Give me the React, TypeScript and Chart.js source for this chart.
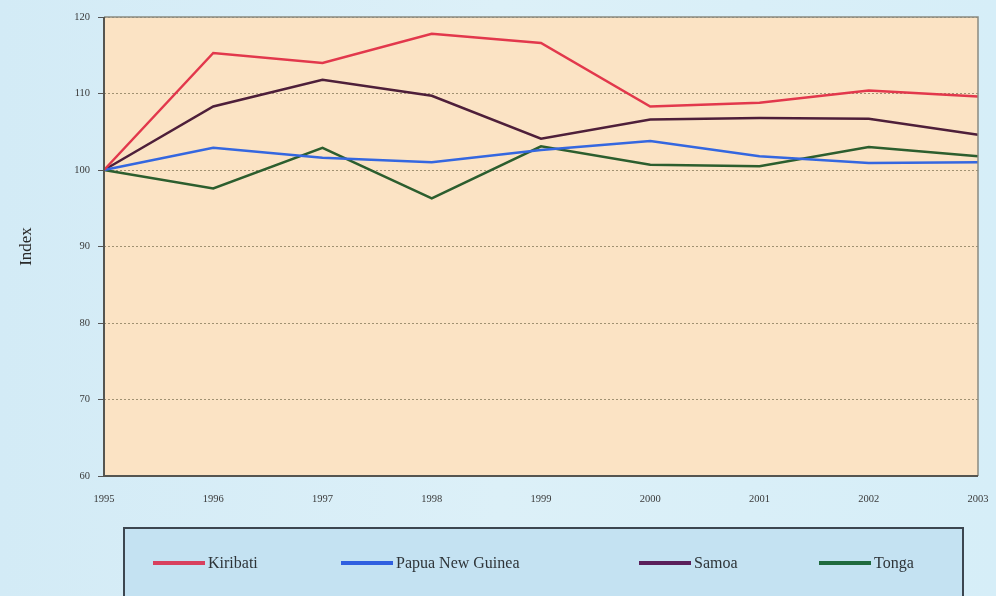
import React, { useEffect, useRef } from "react";
import { Chart, registerables } from "chart.js";

Chart.register(...registerables);

const years = ["1995", "1996", "1997", "1998", "1999", "2000", "2001", "2002", "2003"];
const kiribati = [100, 115.3, 114.0, 117.8, 116.6, 108.3, 108.8, 110.4, 109.6];
const papuaNewGuinea = [100, 102.9, 101.6, 101.0, 102.6, 103.8, 101.8, 100.9, 101.0];
const samoa = [100, 108.3, 111.8, 109.7, 104.1, 106.6, 106.8, 106.7, 104.6];
const tonga = [100, 97.6, 102.9, 96.3, 103.1, 100.7, 100.5, 103.0, 101.8];
const seriesNames = ["Kiribati", "Papua New Guinea", "Samoa", "Tonga"];
const seriesColors = ["#e2384c", "#3467e0", "#4e1f3a", "#2c5e2e"];
const legendColors = ["#d8405e", "#2f5fe0", "#5a1f5a", "#1f6a3e"];
const yMin = 60;
const yMax = 120;
const yStep = 10;

const FONT = "'Liberation Serif', 'Times New Roman', serif";

const bgPlugin = {
  id: "bgPlugin",
  beforeDraw(chart: any) {
    const { ctx, width, height, chartArea } = chart;
    ctx.save();
    const g = ctx.createLinearGradient(0, 0, width, 0);
    g.addColorStop(0, "#d3ebf6");
    g.addColorStop(0.5, "#dcf0f8");
    g.addColorStop(1, "#d6eef8");
    ctx.fillStyle = g;
    ctx.fillRect(0, 0, width, height);
    ctx.fillStyle = "#fbe3c4";
    ctx.fillRect(chartArea.left, chartArea.top, chartArea.right - chartArea.left, chartArea.bottom - chartArea.top);
    ctx.restore();
  },
  afterDatasetsDraw(chart: any) {
    const { ctx, chartArea } = chart;
    ctx.save();
    ctx.strokeStyle = "#8a8a80";
    ctx.lineWidth = 1.5;
    ctx.beginPath();
    ctx.moveTo(chartArea.left, chartArea.top);
    ctx.lineTo(chartArea.right, chartArea.top);
    ctx.lineTo(chartArea.right, chartArea.bottom);
    ctx.stroke();
    ctx.strokeStyle = "#555550";
    ctx.lineWidth = 2;
    ctx.beginPath();
    ctx.moveTo(chartArea.left, chartArea.top);
    ctx.lineTo(chartArea.left, chartArea.bottom);
    ctx.lineTo(chartArea.right, chartArea.bottom);
    ctx.stroke();
    ctx.restore();
  },
};

const legendPlugin = {
  id: "boxLegend",
  afterDraw(chart: any, _args: any, opts: any) {
    const { ctx } = chart;
    const box = opts.box;
    ctx.save();
    ctx.fillStyle = "#c4e2f2";
    ctx.fillRect(box.x, box.y, box.w, box.h);
    ctx.strokeStyle = "#3c4650";
    ctx.lineWidth = 2;
    ctx.strokeRect(box.x, box.y, box.w, box.h);
    ctx.font = `16px ${FONT}`;
    ctx.textBaseline = "middle";
    chart.data.datasets.forEach((ds: any, i: number) => {
      const x = opts.itemX[i];
      ctx.strokeStyle = opts.colors[i];
      ctx.lineWidth = 4;
      ctx.beginPath();
      ctx.moveTo(x, opts.itemY);
      ctx.lineTo(x + 52, opts.itemY);
      ctx.stroke();
      ctx.fillStyle = "#2e3438";
      ctx.fillText(ds.label, x + 55, opts.itemY + 1);
    });
    ctx.restore();
  },
};

export default function App() {
  const ref = useRef<HTMLCanvasElement>(null);
  useEffect(() => {
    const dataSets = [kiribati, papuaNewGuinea, samoa, tonga];
    const chart = new Chart(ref.current!, {
      type: "line",
      data: {
        labels: years,
        datasets: dataSets.map((d, i) => ({
          label: seriesNames[i],
          data: d,
          borderColor: seriesColors[i],
          borderWidth: 2.5,
          pointRadius: 0,
          tension: 0,
          fill: false,
        })),
      },
      options: {
        responsive: false,
        animation: false,
        layout: { padding: { left: 0, top: 17, right: 18, bottom: 90 } },
        plugins: {
          legend: { display: false },
          tooltip: { enabled: false },
          boxLegend: {
            box: { x: 124, y: 528, w: 839, h: 80 },
            itemX: [153, 341, 639, 819],
            itemY: 563,
            colors: legendColors,
          },
        } as any,
        scales: {
          x: {
            offset: false,
            grid: { display: false, drawTicks: true, tickLength: 5 },
            border: { display: false },
            ticks: {
              color: "#3a3a3a",
              font: { family: FONT, size: 10.5 },
              padding: 12,
              maxRotation: 0,
              autoSkip: false,
            },
            afterFit(scale: any) {
              scale.height = 30;
              scale.paddingLeft = 0;
              scale.paddingRight = 0;
            },
          },
          y: {
            min: yMin,
            max: yMax,
            grid: {
              color: "rgba(100,90,60,0.6)",
              lineWidth: 1,
              tickLength: 6,
              tickColor: "#555",
            },
            border: { display: false, dash: [2, 2] },
            ticks: {
              stepSize: yStep,
              color: "#3a3a3a",
              font: { family: FONT, size: 10.5 },
              padding: 8,
            },
            title: {
              display: true,
              text: "Index",
              color: "#2a2a2a",
              font: { family: FONT, size: 17 },
              padding: { top: 16, bottom: 0 },
            },
            afterFit(scale: any) {
              scale.width = 104;
            },
          },
        },
      },
      plugins: [bgPlugin, legendPlugin],
    });
    return () => chart.destroy();
  }, []);
  return (
    <div style={{ position: "absolute", left: 0, top: 0, width: 996, height: 596 }}>
      <canvas ref={ref} width={996} height={596} />
    </div>
  );
}
